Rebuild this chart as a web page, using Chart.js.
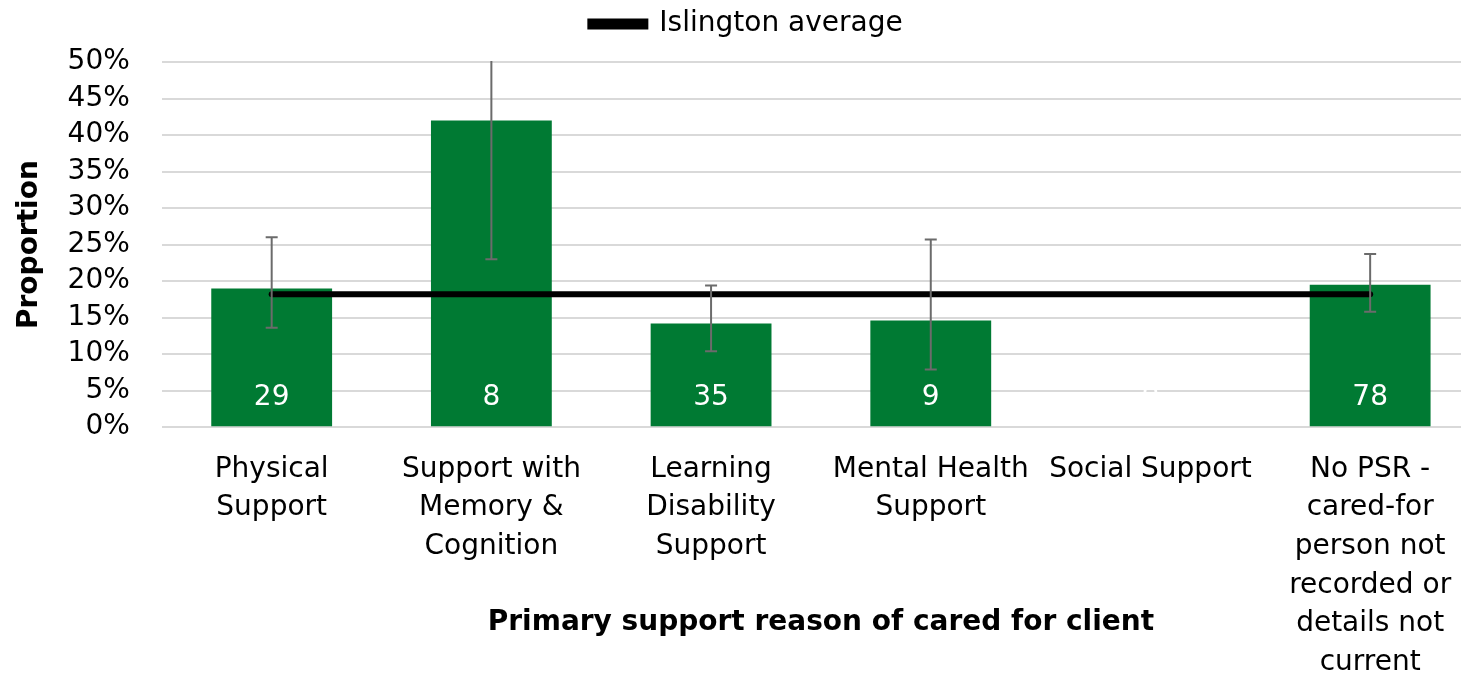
<!DOCTYPE html>
<html>
<head>
<meta charset="utf-8">
<script src="https://cdn.jsdelivr.net/npm/chart.js@4.4.1/dist/chart.umd.min.js"></script>
<style>
    body { margin: 0; overflow: hidden; background: #fff; }
    #contenedor { width: 1480px; height: 676px; }
</style>
</head>
<body>
<div id="contenedor">
    <canvas id="grafico1" width="1480" height="676"></canvas>
</div>
<script>
const categorias = [
    ["Physical", "Support"],
    ["Support with", "Memory &", "Cognition"],
    ["Learning", "Disability", "Support"],
    ["Mental Health", "Support"],
    "Social Support",
    ["No PSR -", "cared-for", "person not", "recorded or", "details not", "current"]
];
const proporcion = [19.0, 42.0, 14.2, 14.6, 0, 19.5];
const errorBajo = [13.6, 23.0, 10.4, 7.9, null, 15.8];
const errorAlto = [26.0, 60.0, 19.4, 25.7, null, 23.7];
const numeroClientes = ["29", "8", "35", "9", "0", "78"];
const promedioIslington = [18.2, 18.2, 18.2, 18.2, 18.2, 18.2];

const fuente = "'DejaVu Sans', Tahoma, sans-serif";
const verde = '#007a33';

// Barras de error y numeros dentro de las barras
const extras = {
    id: 'extras',
    afterInit(chart) {
        // mas espacio entre la leyenda y el area del grafico
        const fitOriginal = chart.legend.fit;
        chart.legend.fit = function () {
            fitOriginal.bind(chart.legend)();
            this.height += 14;
        };
    },
    afterDatasetsDraw(chart) {
        const ctx = chart.ctx;
        const y = chart.scales.y;
        const area = chart.chartArea;
        const meta = chart.getDatasetMeta(1);
        ctx.save();
        ctx.beginPath();
        ctx.rect(area.left, area.top - 1, area.right - area.left, area.bottom - area.top + 2);
        ctx.clip();
        ctx.strokeStyle = '#6b6b6b';
        ctx.lineWidth = 2;
        meta.data.forEach((bar, i) => {
            if (errorBajo[i] === null) return;
            const yb = y.getPixelForValue(errorBajo[i]);
            const ya = y.getPixelForValue(errorAlto[i]);
            ctx.beginPath();
            ctx.moveTo(bar.x, yb); ctx.lineTo(bar.x, ya);
            ctx.moveTo(bar.x - 6, yb); ctx.lineTo(bar.x + 6, yb);
            ctx.moveTo(bar.x - 6, ya); ctx.lineTo(bar.x + 6, ya);
            ctx.stroke();
        });
        ctx.restore();

        ctx.save();
        ctx.fillStyle = '#ffffff';
        ctx.font = '28px ' + fuente;
        ctx.textAlign = 'center';
        ctx.textBaseline = 'middle';
        meta.data.forEach((bar, i) => {
            ctx.fillText(numeroClientes[i], bar.x, y.getPixelForValue(0) - 29);
        });
        ctx.restore();
    },
    afterDraw(chart) {
        // titulo del eje x, encima de las etiquetas largas como en el original
        const ctx = chart.ctx;
        const area = chart.chartArea;
        ctx.save();
        ctx.fillStyle = '#000';
        ctx.font = 'bold 28px ' + fuente;
        ctx.textAlign = 'center';
        ctx.textBaseline = 'middle';
        ctx.fillText('Primary support reason of cared for client', (area.left + area.right) / 2, 623);
        ctx.restore();
    }
};

const ctx = document.getElementById('grafico1');
new Chart(ctx, {
    type: 'bar',
    data: {
        labels: categorias,
        datasets: [{
            type: 'line',
            label: 'Islington average',
            data: promedioIslington,
            borderColor: '#000000',
            backgroundColor: '#000000',
            borderWidth: 6,
            borderCapStyle: 'round',
            pointRadius: 0,
            order: 0
        }, {
            label: 'Proportion',
            data: proporcion,
            backgroundColor: verde,
            barPercentage: 0.55,
            categoryPercentage: 1,
            order: 1
        }]
    },
    plugins: [extras],
    options: {
        responsive: false,
        animation: false,
        layout: { padding: { top: -23.5, left: 13, right: 0, bottom: -21 } },
        plugins: {
            legend: {
                display: true,
                position: 'top',
                labels: {
                    filter: item => item.text === 'Islington average',
                    boxWidth: 55,
                    boxHeight: 5,
                    color: '#000',
                    padding: 33.5,
                    font: { family: fuente, size: 28 }
                }
            },
            tooltip: { enabled: false }
        },
        scales: {
            x: {
                grid: { display: false },
                border: { display: false },
                ticks: {
                    color: '#000',
                    padding: 15,
                    maxRotation: 0,
                    autoSkip: false,
                    font: { family: fuente, size: 28, lineHeight: 1.38 }
                }
            },
            y: {
                min: 0,
                max: 50,
                grid: { color: '#d9d9d9', lineWidth: 2, drawTicks: false },
                border: { display: false },
                ticks: {
                    stepSize: 5,
                    autoSkip: false,
                    color: '#000',
                    padding: 32,
                    callback: v => v + '%',
                    font: { family: fuente, size: 28 }
                },
                title: {
                    display: true,
                    text: 'Proportion',
                    color: '#000',
                    padding: { top: 0, bottom: -11 },
                    font: { family: fuente, size: 28, weight: 'bold' }
                }
            }
        }
    }
});
</script>
</body>
</html>
